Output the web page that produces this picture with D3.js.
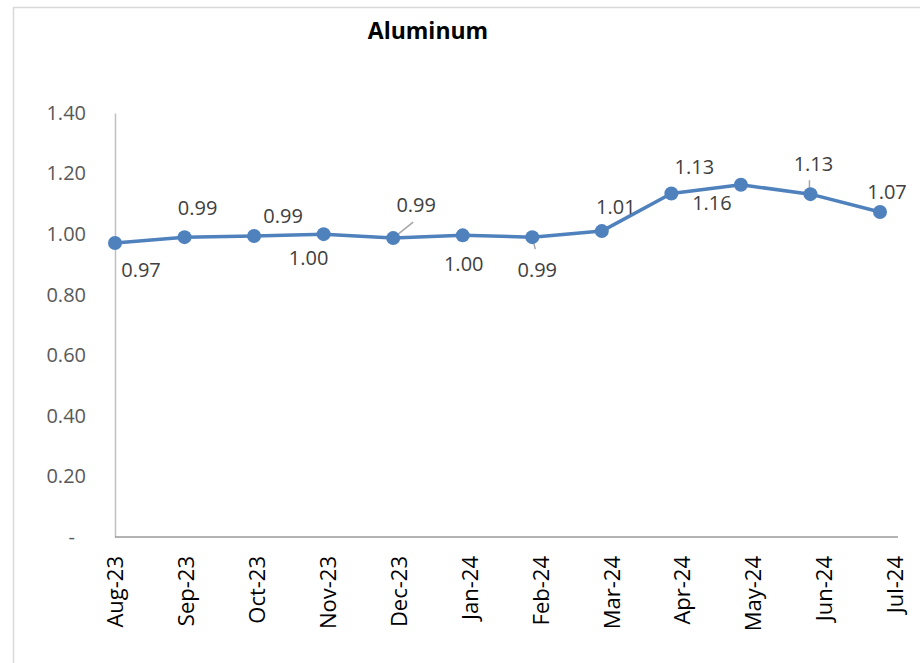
<!DOCTYPE html>
<html>
<head>
<meta charset="utf-8">
<script src="https://cdn.jsdelivr.net/npm/d3@7"></script>
<style>
  body { margin: 0; background: #fff; }
  svg { display: block; font-family: "Open Sans", sans-serif; }
</style>
</head>
<body>
<div id="chartSection"></div>
<script>
var months = ["Aug-23", "Sep-23", "Oct-23", "Nov-23", "Dec-23", "Jan-24", "Feb-24", "Mar-24", "Apr-24", "May-24", "Jun-24", "Jul-24"];
var prices = [0.971, 0.990, 0.994, 1.000, 0.987, 0.996, 0.990, 1.010, 1.134, 1.163, 1.132, 1.073];
var yTicks = [0, 0.2, 0.4, 0.6, 0.8, 1.0, 1.2, 1.4];

// where each data label sits, relative to its point
var labelShift = [[26, 27], [13, -29], [29, -20], [-15, 24], [23, -33], [1, 28], [5, 33], [14, -24], [23, -27], [-29, 18], [3, -30], [7, -20]];
// leader lines for labels pushed away from their points
var leaders = { 4: [[0, 0], [20, -16]], 6: [[1, 4], [3, 12]], 10: [[-1, -14], [-1, 0]] };

var width = 920, height = 663;
var svg = d3.select("#chartSection").append("svg")
    .attr("width", width)
    .attr("height", height);

// chart frame (only top/left edges fall inside the picture)
svg.append("rect")
    .attr("x", 13.5).attr("y", 7.5)
    .attr("width", 1000).attr("height", 1000)
    .attr("fill", "none").attr("stroke", "#d9d9d9").attr("stroke-width", 1.5);

svg.append("text")
    .attr("x", 428).attr("y", 39)
    .attr("text-anchor", "middle")
    .style("font-size", "23px").style("font-weight", "bold").style("fill", "#000")
    .text("Aluminum");

var plotLeft = 115, plotTop = 113, plotBottom = 537, axisRight = 898;

var y = d3.scaleLinear().domain([0, 1.4]).range([plotBottom, plotTop]);
var x = d3.scalePoint().domain(months).range([plotLeft, 880]);
var xLab = d3.scalePoint().domain(months).range([plotLeft, 895]);

// y axis
var yAxis = d3.axisLeft(y)
    .tickValues(yTicks)
    .tickSize(0)
    .tickPadding(29)
    .tickFormat(function(d) { return d === 0 ? "-" : d3.format(".2f")(d); });
var gy = svg.append("g").attr("transform", "translate(" + plotLeft + ",0)").call(yAxis);
gy.select(".domain").attr("stroke", "#c0c0c0").attr("stroke-width", 1.5);
gy.selectAll("text")
    .style("font-size", "20px").style("fill", "#595959").style("font-family", "Open Sans")
    .attr("dx", function(d) { return d === 0 ? -11 : 0; });

// x axis
svg.append("line")
    .attr("x1", plotLeft).attr("x2", axisRight)
    .attr("y1", plotBottom).attr("y2", plotBottom)
    .attr("stroke", "#9a9a9a").attr("stroke-width", 1.5);

var xAxis = d3.axisBottom(xLab).tickSize(0).tickPadding(0);
var gx = svg.append("g").attr("transform", "translate(0," + plotBottom + ")").call(xAxis);
gx.select(".domain").remove();
gx.selectAll("text")
    .attr("transform", "rotate(-90)")
    .attr("text-anchor", "end")
    .attr("x", -19)
    .attr("y", 0)
    .attr("dy", "0.35em")
    .style("font-size", "22px").style("fill", "#000").style("font-family", "Open Sans");

// leader lines
Object.keys(leaders).forEach(function(k) {
    var i = +k, seg = leaders[k];
    svg.append("line")
        .attr("x1", x(months[i]) + seg[0][0]).attr("y1", y(prices[i]) + seg[0][1])
        .attr("x2", x(months[i]) + seg[1][0]).attr("y2", y(prices[i]) + seg[1][1])
        .attr("stroke", "#a6a6a6").attr("stroke-width", 1.5);
});

var line = d3.line()
    .x(function(d, i) { return x(months[i]); })
    .y(function(d) { return y(d); });

svg.append("path")
    .datum(prices)
    .attr("d", line)
    .attr("fill", "none")
    .attr("stroke", "#4f81bd")
    .attr("stroke-width", 3.5)
    .attr("stroke-linejoin", "round");

svg.selectAll("circle.pt")
    .data(prices)
    .enter().append("circle")
    .attr("class", "pt")
    .attr("cx", function(d, i) { return x(months[i]); })
    .attr("cy", function(d) { return y(d); })
    .attr("r", 7)
    .style("fill", "#4f81bd");

svg.selectAll("text.lbl")
    .data(prices)
    .enter().append("text")
    .attr("class", "lbl")
    .attr("x", function(d, i) { return x(months[i]) + labelShift[i][0]; })
    .attr("y", function(d, i) { return y(d) + labelShift[i][1]; })
    .attr("dy", "0.36em")
    .attr("text-anchor", "middle")
    .style("font-size", "20px").style("fill", "#404040")
    .text(function(d) { return d3.format(".2f")(d); });
</script>
</body>
</html>
